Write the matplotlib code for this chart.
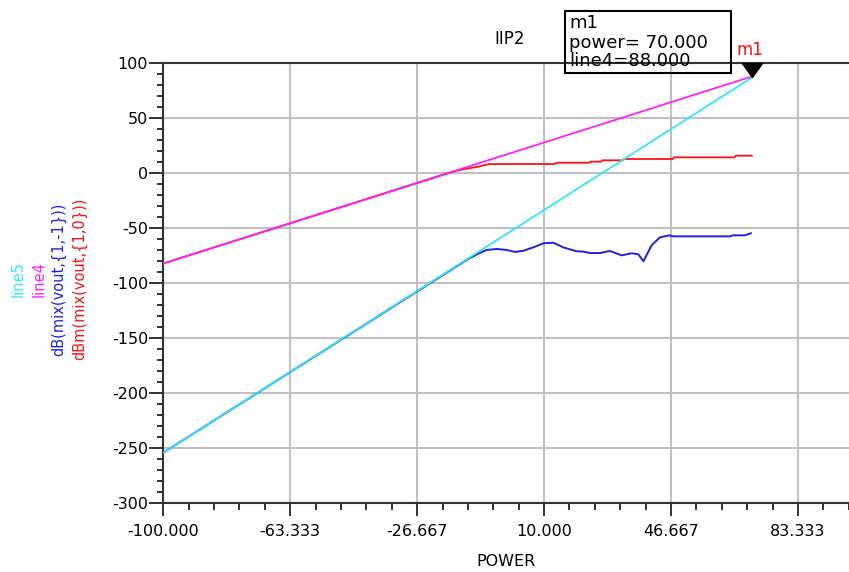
import numpy as np
import matplotlib
matplotlib.use("Agg")
import matplotlib.pyplot as plt
from matplotlib.patches import Rectangle
from matplotlib.ticker import FixedLocator

plt.rcParams["axes.unicode_minus"] = False

# ─── Data ───────────────────────────────────────────────────
# line4: fundamental extrapolation (slope 1)
line4_x = [-100, 70]
line4_y = [-82, 88]

# line5: IM2 extrapolation (slope 2)
line5_x = [-100, 70]
line5_y = [-254, 87]

# dBm(mix(vout,{1,0})) - fundamental output
fund_x = [-100, -20, -15, -12, -9, -6, 13.1, 13.6, 23.0, 23.4, 26.4, 26.8,
          32.7, 33.0, 47.2, 47.5, 65.0, 65.4, 70.0]
fund_y = [-82, -2.2, 2.6, 4.5, 6.0, 8.4, 8.4, 9.6, 9.6, 10.6, 10.6, 11.8,
          11.8, 13.0, 13.0, 14.5, 14.5, 16.0, 16.0]

# dB(mix(vout,{1,-1})) - IM2 output
im2_x = [-100, -20, -12, -9, -6.6, -3.7, -0.8, 1.6, 4.0, 6.9, 9.8, 12.7,
         15.5, 19.4, 21.3, 23.3, 26.1, 29.0, 32.4, 35.3, 37.2, 38.7, 39.6,
         41.1, 43.5, 46.2, 47.3, 63.7, 64.6, 68.0, 69.7]
im2_y = [-254, -94, -78, -73, -69.7, -68.8, -69.7, -71.5, -70.4, -67.3,
         -63.6, -63.1, -67.3, -70.9, -71.2, -72.5, -72.5, -70.6, -74.6,
         -72.7, -73.6, -80.0, -74.3, -65.2, -58.2, -56.4, -57.3, -57.3,
         -56.4, -56.4, -54.5]

# marker m1
m1_power = 70.0
m1_line4 = 88.0

W, H = 849, 572


def fx(px):
    return px / W


def fy(py):
    return 1 - py / H


fig = plt.figure(figsize=(W / 100, H / 100), dpi=100)
ax = fig.add_axes([fx(163.3), fy(503.3), (W - 163.3) / W, (503.3 - 63.3) / H])

ax.plot(fund_x, fund_y, color="#ff1010", lw=1.3, zorder=3)
ax.plot(im2_x, im2_y, color="#2020e0", lw=1.4, zorder=3)
ax.plot(line4_x, line4_y, color="#ff20ff", lw=1.3, zorder=4)
ax.plot(line5_x, line5_y, color="#30e8f8", lw=1.3, zorder=4)

# ─── Axes / ticks ───────────────────────────────────────────
step = 110.0 / 3
xmaj = [-100 + step * k for k in range(6)]
xmin = [-100 + step / 5 * k for k in range(30)]
ax.set_xlim(-100, 98.07)
ax.set_ylim(-300, 100)
ax.xaxis.set_major_locator(FixedLocator(xmaj))
ax.xaxis.set_minor_locator(FixedLocator(xmin))
ax.set_xticklabels([f"{v:.3f}" for v in xmaj])
ax.yaxis.set_major_locator(FixedLocator(np.arange(-300, 101, 50)))
ax.yaxis.set_minor_locator(FixedLocator(np.arange(-300, 101, 10)))

ax.tick_params(axis="y", which="major", direction="out", length=10,
               width=1.3, pad=1, labelsize=11.5, color="#222222",
               labelcolor="black")
ax.tick_params(axis="y", which="minor", direction="out", length=4, width=1.3,
               color="#222222")
ax.tick_params(axis="x", which="major", direction="out", length=9,
               width=1.3, pad=6, labelsize=11.5, color="#222222",
               labelcolor="black")
ax.tick_params(axis="x", which="minor", direction="out", length=5, width=1.3,
               color="#222222")

ax.grid(True, which="major", color="#c0c0c0", lw=1.5, zorder=1)
ax.set_axisbelow(True)
for side in ["left", "bottom", "top"]:
    ax.spines[side].set_color("#333333")
    ax.spines[side].set_linewidth(1.5)
ax.spines["right"].set_visible(False)

# ─── Labels ─────────────────────────────────────────────────
fig.text(fx(509.5), fy(39), "IIP2", ha="center", va="center", fontsize=12)
fig.text(fx(506), fy(561), "POWER", ha="center", va="center", fontsize=11.5)

ylabels = ["line5", "line4", "dB(mix(vout,{1,-1}))", "dBm(mix(vout,{1,0}))"]
ycolors = ["#30e8f8", "#ff20ff", "#2020e0", "#ff1010"]
for xpos, txt, col in zip([18, 39, 59, 80], ylabels, ycolors):
    fig.text(fx(xpos), fy(279), txt, rotation=90, ha="center", va="center",
             color=col, fontsize=10.5)

# ─── Marker m1 and readout box ──────────────────────────────
tri = [(-0.72, 1.0), (0.72, 1.0), (0.0, 0.0), (-0.72, 1.0)]
ax.plot([m1_power], [m1_line4], marker=tri, markersize=20, color="black",
        linestyle="none", clip_on=False, zorder=6)
ax.annotate("m1", (m1_power, m1_line4), xytext=(-1.5, 19),
            textcoords="offset points", ha="center", va="center",
            color="#ff1010", fontsize=12, annotation_clip=False, zorder=6)

fig.patches.append(Rectangle((fx(565), fy(72.7)), (731 - 565) / W,
                             (72.7 - 11) / H, transform=fig.transFigure,
                             fill=False, edgecolor="black", lw=1.5))
for py, txt in zip([22.7, 42.7, 61.5],
                   ["m1", f"power= {m1_power:.3f}", f"line4={m1_line4:.3f}"]):
    fig.text(fx(569), fy(py), txt, ha="left", va="center", fontsize=13)

fig.savefig("out.png", dpi=100)
